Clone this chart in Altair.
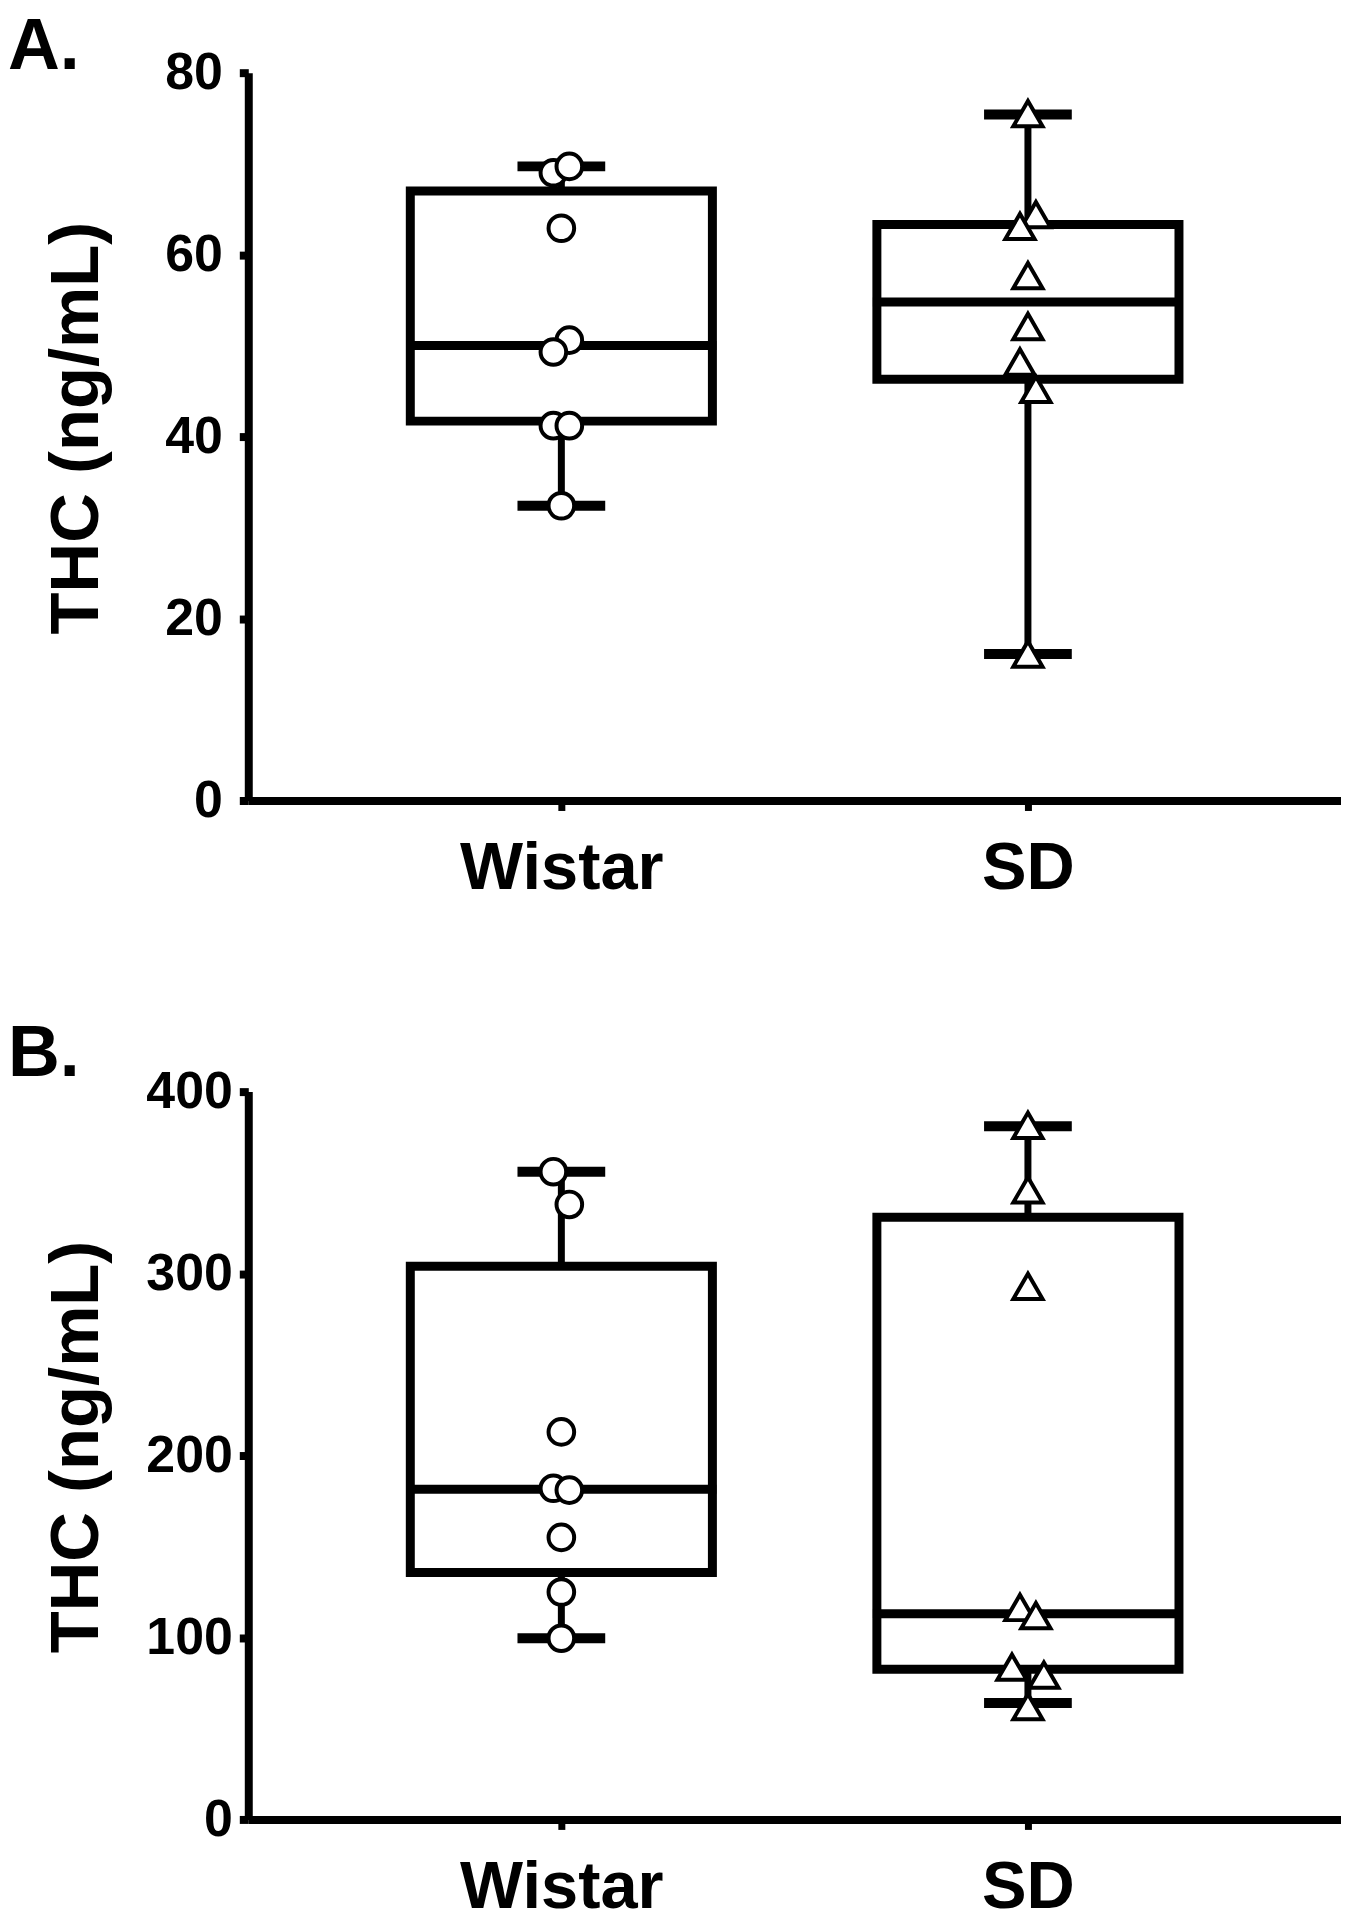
import altair as alt
import pandas as pd

FONT = "Liberation Sans"
strains = ["Wistar", "SD"]

# ---------------- Panel A ----------------
a_wistar_vals = [69.0, 69.7, 62.9, 50.6, 49.3, 41.2, 41.2, 32.4]
a_wistar_slot = [-1, 1, 0, 1, -1, -1, 1, 0]
a_sd_vals = [75.5, 64.4, 63.1, 57.7, 52.1, 48.2, 45.2, 16.1]
a_sd_slot = [0, 1, -1, 0, 0, -1, 1, 0]
a_q1 = [41.7, 46.3]
a_median = [50.0, 54.8]
a_q3 = [67.0, 63.3]
a_min = [32.4, 16.1]
a_max = [69.7, 75.4]
a_ticks = [0, 20, 40, 60, 80]

# ---------------- Panel B ----------------
b_wistar_vals = [356, 338, 213, 182, 181, 155, 125, 99.6]
b_wistar_slot = [-1, 1, 0, -1, 1, 0, 0, 0]
b_sd_vals = [381.5, 346, 293, 116.5, 112, 83.7, 79.3, 62]
b_sd_slot = [0, 0, 0, -1, 1, -2, 2, 0]
b_q1 = [135.7, 82.6]
b_median = [181.5, 113]
b_q3 = [304, 331]
b_min = [99.6, 64]
b_max = [356, 381]
b_ticks = [0, 100, 200, 300, 400]


def panel(letter, w_vals, w_slot, s_vals, s_slot, q1, med, q3, lo, hi,
          ymax, ticks, label_pad, slot_dom, slot_rng, title_dy):
    pts = pd.DataFrame({
        "strain": ["Wistar"] * len(w_vals) + ["SD"] * len(s_vals),
        "thc": w_vals + s_vals,
        "slot": w_slot + s_slot,
    })
    stats = pd.DataFrame({"strain": strains, "q1": q1, "med": med,
                          "q3": q3, "lo": lo, "hi": hi})

    x = alt.X("strain:N", sort=strains,
              scale=alt.Scale(type="point", padding=0.671),
              axis=alt.Axis(title=None, labelAngle=0, labelFont=FONT,
                            labelFontSize=67, labelFontWeight="bold",
                            labelColor="black", labelPadding=25, labelLimit=0,
                            tickSize=10, tickWidth=7, tickColor="black",
                            domainColor="black", domainWidth=8, grid=False))
    yscale = alt.Scale(domain=[0, ymax], nice=False, zero=True)
    yaxis = alt.Axis(values=ticks, title="THC (ng/mL)", grid=False,
                     labelFont=FONT, labelFontSize=52, labelFontWeight="bold",
                     labelColor="black", labelPadding=label_pad,
                     tickSize=9, tickWidth=8, tickColor="black",
                     domainColor="black", domainWidth=8,
                     titleFont=FONT, titleFontSize=69, titleFontWeight="bold",
                     titleColor="black", titleAngle=270, titleAlign="center",
                     titleBaseline="alphabetic", titleX=-151, titleY=356)

    def Y(f):
        return alt.Y(f, scale=yscale, axis=yaxis)

    base = alt.Chart(stats).encode(x=x)
    whisk_lo = base.mark_rule(strokeWidth=7, color="black").encode(y=Y("lo:Q"), y2="q1:Q")
    whisk_hi = base.mark_rule(strokeWidth=7, color="black").encode(y=Y("q3:Q"), y2="hi:Q")
    cap_lo = base.mark_tick(size=88, thickness=10, color="black", opacity=1).encode(y=Y("lo:Q"))
    cap_hi = base.mark_tick(size=88, thickness=10, color="black", opacity=1).encode(y=Y("hi:Q"))
    box = base.mark_bar(size=303, fill="white", stroke="black",
                        strokeWidth=9, opacity=1).encode(y=Y("q1:Q"), y2="q3:Q")
    median = base.mark_tick(size=311, thickness=9, color="black",
                            opacity=1).encode(y=Y("med:Q"))
    points = alt.Chart(pts).mark_point(
        filled=True, fill="white", stroke="black", strokeWidth=4,
        opacity=1, fillOpacity=1, strokeOpacity=1
    ).encode(
        x=x,
        y=Y("thc:Q"),
        xOffset=alt.XOffset("slot:Q", scale=alt.Scale(domain=slot_dom, range=slot_rng)),
        shape=alt.Shape("strain:N", scale=alt.Scale(domain=strains,
                        range=["circle", "triangle-up"]), legend=None),
        size=alt.condition(alt.datum.strain == "Wistar", alt.value(660), alt.value(860)),
    )
    return alt.layer(whisk_lo, whisk_hi, cap_lo, cap_hi, box, median, points).properties(
        width=1096, height=730,
        title=alt.TitleParams(text=letter, anchor="start", frame="group",
                              dx=-241, dy=title_dy, offset=0, font=FONT,
                              fontSize=72, fontWeight="bold", color="black"),
    )


pa = panel("A.", a_wistar_vals, a_wistar_slot, a_sd_vals, a_sd_slot,
           a_q1, a_median, a_q3, a_min, a_max, 80, a_ticks, 17,
           [-1, 1], [-16, 16], 37)
pb = panel("B.", b_wistar_vals, b_wistar_slot, b_sd_vals, b_sd_slot,
           b_q1, b_median, b_q3, b_min, b_max, 400, b_ticks, 7,
           [-2, 2], [-37, 37], 25)

chart = alt.vconcat(pa, pb, spacing=117).properties(
    padding={"left": 0, "top": 0, "right": 0, "bottom": 0}
).configure(font=FONT).configure_view(strokeWidth=0, stroke=None)

chart.save("out.html", embed_options={"renderer": "svg", "actions": False})
